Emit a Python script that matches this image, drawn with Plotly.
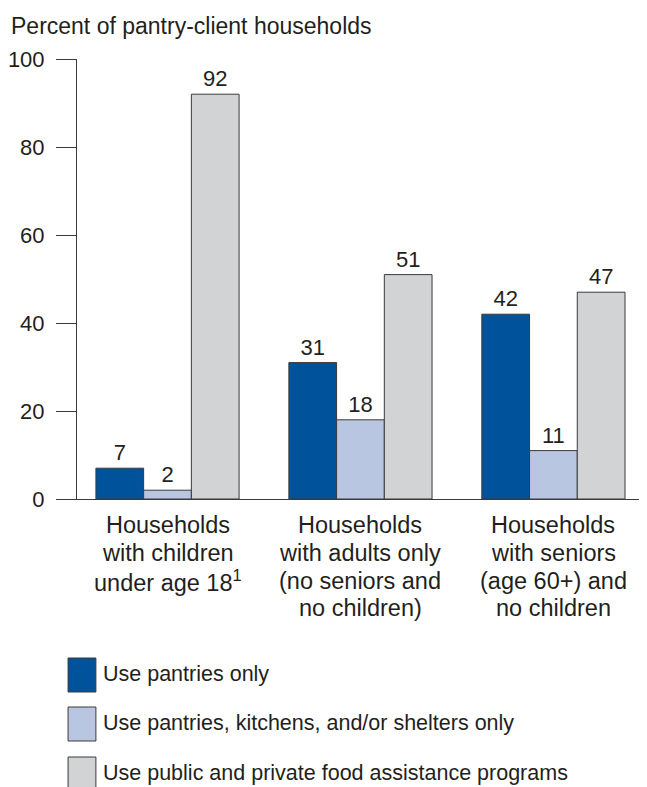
import plotly.graph_objects as go

# ---- data ----
categories = [
    "Households<br>with children<br>under age 18<sup>1</sup>",
    "Households<br>with adults only<br>(no seniors and<br>no children)",
    "Households<br>with seniors<br>(age 60+) and<br>no children",
]
series_names = [
    "Use pantries only",
    "Use pantries, kitchens, and/or shelters only",
    "Use public and private food assistance programs",
]
pantries_only = [7, 31, 42]
pantries_kitchens_shelters = [2, 18, 11]
public_private_programs = [92, 51, 47]
y_ticks = [0, 20, 40, 60, 80, 100]

series_values = [pantries_only, pantries_kitchens_shelters, public_private_programs]
colors = ["#00539b", "#b9c6e2", "#d1d3d4"]

FONT = "Liberation Sans, Arial, Helvetica, sans-serif"
TXT = "#231f20"
OFF = 8  # page body margin
W, H = 647 - OFF, 787 - OFF
L, R_EDGE, TOP, BOT = 74 - OFF, 647 - OFF, 59 - OFF, 499 - OFF
pw, ph = R_EDGE - L, BOT - TOP


def px_x(p):
    return (p - OFF - L) / pw


def px_y(p):
    return (BOT - (p - OFF)) / ph


xpos = list(range(len(categories)))

fig = go.Figure()
for name, vals, col in zip(series_names, series_values, colors):
    fig.add_trace(go.Bar(
        x=xpos, y=vals, name=name,
        marker=dict(color=col, line=dict(color="#3a3a3a", width=1)),
        text=[str(v) for v in vals], textposition="outside",
        textfont=dict(family=FONT, size=22, color=TXT),
        cliponaxis=False, showlegend=False,
    ))

annotations = []
# axis title
annotations.append(dict(
    text="Percent of pantry-client households", xref="paper", yref="paper",
    x=px_x(6), y=px_y(26), xanchor="left", yanchor="middle", showarrow=False,
    font=dict(family=FONT, size=23, color=TXT),
))
# category labels, one annotation per line
LINE_H = 27.8
for i, c in enumerate(categories):
    for j, line in enumerate(c.split("<br>")):
        annotations.append(dict(
            text=line, xref="x", yref="paper", x=i, y=px_y(525 + j * LINE_H),
            xanchor="center", yanchor="middle", showarrow=False,
            font=dict(family=FONT, size=23.5, color=TXT),
        ))

shapes = []
leg_tops = [658, 707, 757]
for name, col, t in zip(series_names, colors, leg_tops):
    shapes.append(dict(
        type="rect", xref="paper", yref="paper",
        x0=px_x(65), x1=px_x(93), y0=px_y(t), y1=px_y(t + 34),
        fillcolor=col, line=dict(color="#3a3a3a", width=1), layer="above",
    ))
    annotations.append(dict(
        text=name, xref="paper", yref="paper", x=px_x(98), y=px_y(t + 16),
        xanchor="left", yanchor="middle", showarrow=False,
        font=dict(family=FONT, size=21.5, color=TXT),
    ))

fig.update_layout(
    width=W, height=H,
    margin=dict(l=L, r=W - R_EDGE, t=TOP, b=H - BOT, pad=0),
    paper_bgcolor="white", plot_bgcolor="white",
    barmode="group", bargap=0.258, bargroupgap=0,
    showlegend=False,
    font=dict(family=FONT, color=TXT),
    xaxis=dict(
        range=[-0.469, 2.485], showticklabels=False, ticks="",
        showgrid=False, zeroline=False, showline=True, linecolor="#3a3a3a",
        linewidth=1, fixedrange=True,
    ),
    yaxis=dict(
        range=[0, 100], tickvals=y_ticks, ticktext=[str(v) for v in y_ticks],
        ticks="outside", ticklen=20, tickwidth=1, tickcolor="#3a3a3a",
        showline=True, linecolor="#3a3a3a", linewidth=1, showgrid=False,
        zeroline=False, ticklabelstandoff=7,
        tickfont=dict(family=FONT, size=22, color=TXT),
    ),
    annotations=annotations, shapes=shapes,
)

fig.write_html("out.html")
